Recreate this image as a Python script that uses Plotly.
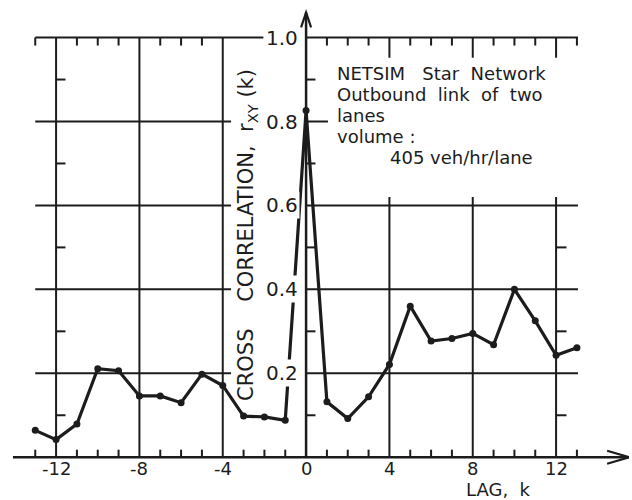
import plotly.graph_objects as go

# Cross-correlation r_XY(k) versus lag k
lags = list(range(-13, 14))
r_xy = [0.064, 0.042, 0.079, 0.211, 0.206, 0.146, 0.146, 0.130, 0.198,
        0.171, 0.098, 0.096, 0.088, 0.826, 0.132, 0.092, 0.144, 0.221,
        0.360, 0.277, 0.283, 0.295, 0.268, 0.400, 0.325, 0.243, 0.261]

x_tick_vals = [-12, -8, -4, 0, 4, 8, 12]
x_tick_text = ["-12", "-8", "-4", "0", "4", "8", "12"]
y_tick_vals = [0.2, 0.4, 0.6, 0.8, 1.0]
y_tick_text = ["0.2", "0.4", "0.6", "0.8", "1.0"]
y_minor_vals = [0.1, 0.3, 0.5, 0.7, 0.9]

NB = "\u00a0"
note_lines = [
    f"NETSIM{NB * 3}Star{NB * 2}Network",
    f"Outbound{NB * 2}link{NB * 2}of{NB * 2}two",
    "lanes",
    f"volume{NB}:",
]
note_volume = f"405{NB}veh/hr/lane"
y_title = f"CROSS{NB * 4}CORRELATION,{NB * 2}r<sub>XY</sub>{NB}(k)"
x_title = f"LAG,{NB}{NB}k"

INK = "#1c1c1c"
FONT = "DejaVu Sans"

shapes = []


def seg(x0, y0, x1, y1, w=2.0):
    shapes.append(dict(type="line", xref="x", yref="y", x0=x0, y0=y0,
                       x1=x1, y1=y1, layer="below",
                       line=dict(color=INK, width=w)))


# horizontal grid, left half (stops short of the axis title)
for v in y_tick_vals[:-1]:
    seg(-13, v, -3.6, v)
seg(-13, 1.0, -2.05, 1.0)
# horizontal grid, right half (the 0.8 line is cut by the note)
for v in [0.2, 0.4, 0.6, 1.0]:
    seg(0, v, 13.05, v)
seg(0, 0.8, 1.05, 0.8)

# vertical grid
for x in [-12, -8, -4]:
    seg(x, 0, x, 1.0)
for x in [4, 8, 12]:
    seg(x, 0, x, 0.62)
    seg(x, 1.0, x, 0.952)

# minor ticks along the top frame line
for x in [-13, -11, -10, -9, -7, -6, -5, 1, 2, 3, 5, 6, 7, 9, 10, 11, 13]:
    seg(x, 1.0, x, 0.981)

# minor ticks along the lag axis
for x in lags:
    if x not in x_tick_vals:
        seg(x, 0, x, 0.018)

# minor ticks on the vertical lines
for v in y_minor_vals:
    seg(-12, v, -11.55, v)
    seg(0, v, 0.45, v)
for v in y_minor_vals[:3]:
    seg(12, v, 12.5, v)

# axes with open arrowheads
x_tip, y_tip = 15.5, 1.06
seg(-14.07, 0, x_tip, 0, 2.5)
seg(0, 0, 0, y_tip, 2.5)
shapes.append(dict(type="path", xref="x", yref="y", layer="below",
                   path=f"M {x_tip - 1.05},{6.5 / 420} L {x_tip},0 L {x_tip - 1.05},{-6.5 / 420}",
                   line=dict(color=INK, width=2.2)))
shapes.append(dict(type="path", xref="x", yref="y", layer="below",
                   path=f"M {-5 / 20.83},{y_tip - 15 / 420} L 0,{y_tip} L {5 / 20.83},{y_tip - 15 / 420}",
                   line=dict(color=INK, width=2.2)))

fig = go.Figure()
fig.add_trace(go.Scatter(
    x=lags, y=r_xy, mode="lines+markers",
    line=dict(color=INK, width=3.2),
    marker=dict(color=INK, size=7),
    hoverinfo="x+y",
))

annotations = []
for v, t in zip(x_tick_vals, x_tick_text):
    annotations.append(dict(x=v, y=(457 - 468.5) / 420, text=t,
                            showarrow=False, xanchor="center",
                            yanchor="middle",
                            font=dict(size=18, color=INK, family=FONT)))
for v, t in zip(y_tick_vals, y_tick_text):
    annotations.append(dict(x=-0.3, y=v, text=t, showarrow=False,
                            xanchor="right", yanchor="middle",
                            bgcolor="white", borderpad=1,
                            font=dict(size=20, color=INK, family=FONT)))

annotations.append(dict(
    x=-2.83, y=0.53, textangle=-90, showarrow=False, text=y_title,
    xanchor="center", yanchor="middle",
    font=dict(size=21, color=INK, family=FONT)))
annotations.append(dict(
    x=9.22, y=(457 - 489.6) / 420, text=x_title, showarrow=False,
    xanchor="center", yanchor="middle",
    font=dict(size=18, color=INK, family=FONT)))

note_y0 = (457 - 73) / 420
note_step = 21 / 420
for i, line in enumerate(note_lines):
    annotations.append(dict(x=1.39, y=note_y0 - note_step * i, text=line,
                            showarrow=False, xanchor="left", yanchor="middle",
                            font=dict(size=18, color=INK, family=FONT)))
annotations.append(dict(x=3.94, y=note_y0 - note_step * 4, text=note_volume,
                        showarrow=False, xanchor="left", yanchor="middle",
                        font=dict(size=18, color=INK, family=FONT)))

fig.update_layout(
    width=632, height=500,
    margin=dict(l=4, r=3, t=4, b=5),
    paper_bgcolor="white", plot_bgcolor="white",
    showlegend=False,
    xaxis=dict(range=[-14.5, 15.5], visible=False, fixedrange=True),
    yaxis=dict(range=[-0.09, 1.08], visible=False, fixedrange=True),
    shapes=shapes,
    annotations=annotations,
)

fig.write_html("out.html")
